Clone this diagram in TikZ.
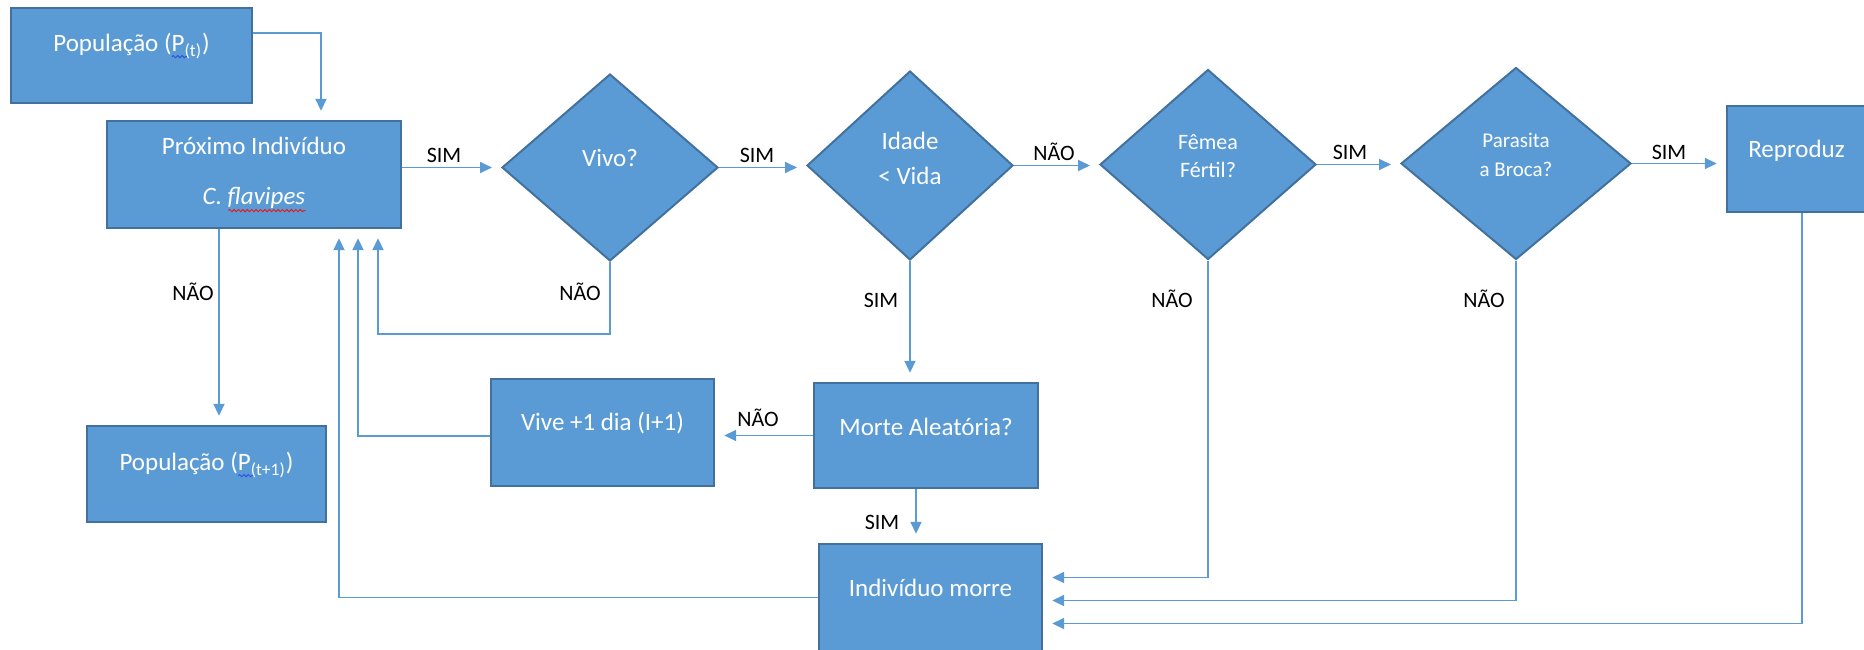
\documentclass[tikz,border=0pt]{standalone}
\usepackage{fontspec}
\setmainfont{Carlito}
\usetikzlibrary{shapes.geometric,arrows.meta,calc,decorations.pathmorphing}
\definecolor{fillblue}{HTML}{5B9BD5}
\definecolor{edgeblue}{HTML}{41719C}
\definecolor{lineblue}{HTML}{5B9BD5}
\definecolor{spellred}{HTML}{E02020}
\definecolor{spellblue}{HTML}{3050E0}
\tikzset{
  box/.style={rectangle, draw=edgeblue, fill=fillblue, line width=1.2pt, inner sep=0pt},
  dia/.style={diamond, aspect=1, draw=edgeblue, fill=fillblue, line width=1pt, inner sep=0pt},
  btext/.style={text=white, font=\fontsize{12.5}{15}\selectfont, inner sep=0pt, align=center},
  lbl/.style={text=black, font=\fontsize{11}{13}\selectfont, inner sep=0pt},
  conn/.style={draw=lineblue, line width=0.9pt},
  arr/.style={conn, -{Triangle[length=6pt,width=5.5pt]}, shorten >=4.5pt},
  squiggle/.style={line width=0.5pt, decorate, decoration={snake, amplitude=0.55pt, segment length=2.2pt}},
}
\begin{document}
\begin{tikzpicture}[x=0.5pt,y=-0.5pt]
\useasboundingbox (0,0) rectangle (1864,649);
\clip (0,0) rectangle (1864,649);
% boxes
\node[box, minimum width=120.5pt, minimum height=47.5pt] (pt) at (131.5,55.5) {};
\node[box, minimum width=147pt, minimum height=53.5pt] (prox) at (254,174.5) {};
\node[box, minimum width=119.5pt, minimum height=48pt] (pop1) at (206.5,474) {};
\node[box, minimum width=111.5pt, minimum height=53.5pt] (vive) at (602.5,432.5) {};
\node[box, minimum width=112pt, minimum height=52.5pt] (morte) at (926,435.5) {};
\node[box, minimum width=111.5pt, minimum height=53.5pt] (indiv) at (930.5,597.5) {};
\node[box, minimum width=69.5pt, minimum height=53pt] (repro) at (1796.5,159) {};
% diamonds
\node[dia, minimum width=108pt, minimum height=93.5pt] (vivo) at (610,167.5) {};
\node[dia, minimum width=103pt, minimum height=94.5pt] (idade) at (910,165.5) {};
\node[dia, minimum width=108pt, minimum height=95pt] (femea) at (1208,164.5) {};
\node[dia, minimum width=115pt, minimum height=96pt] (parasita) at (1516,163.5) {};
% texts
\node[btext] (tpt) at (131.5,46) {População (P\textsubscript{(t)})};
\node[btext] (tprox) at (254,146) {Próximo Indivíduo};
\node[btext] (tflav) at (254,198) {\textit{C. flavipes}};
\node[btext] (tpop1) at (206.5,465) {População (P\textsubscript{(t+1)})};
\node[btext] (tvive) at (602.5,423) {Vive +1 dia (I+1)};
\node[btext] (tmorte) at (926,427) {Morte Aleatória?};
\node[btext] (tindiv) at (930.5,588) {Indivíduo morre};
\node[btext] (trepro) at (1796.5,151) {Reproduz};
\node[btext] (tvivo) at (610,158) {Vivo?};
\node[btext, font=\fontsize{12.5}{17.5}\selectfont] (tidade) at (910,158.5) {Idade\\< Vida};
\node[btext, font=\fontsize{11}{14}\selectfont] (tfemea) at (1208,156) {Fêmea\\Fértil?};
\node[btext, font=\fontsize{10.5}{14.5}\selectfont] (tpara) at (1516,155) {Parasita\\a Broca?};
% spell-check squiggles
\draw[squiggle, spellred] ($(tflav.base west)+(26,6)$) -- ($(tflav.base east)+(0,6)$);
\draw[squiggle, spellblue] ($(tpt.base west)+(119,5)$) -- ($(tpt.base west)+(134,5)$);
\draw[squiggle, spellblue] ($(tpop1.base west)+(119,5)$) -- ($(tpop1.base west)+(134,5)$);
% helper coordinates
\coordinate (ptout) at ($(pt.east)+(0,-22.5)$);
\coordinate (proxin) at ($(prox.north)+(67,0)$);
\coordinate (p1) at ($(prox.south)+(-35,0)$);
\coordinate (vn) at ($(vivo.south)+(0,72)$);
\coordinate (u1) at ($(prox.south)+(85,0)$);
\coordinate (u2) at ($(prox.south)+(104,0)$);
\coordinate (u3) at ($(prox.south)+(124,0)$);
\coordinate (viveout) at ($(vive.west)+(0,3.5)$);
\coordinate (ms) at ($(morte.south)+(-10,0)$);
\coordinate (rs) at ($(repro.south)+(5.5,0)$);
\coordinate (in1) at ($(indiv.east)+(0,-20)$);
\coordinate (in2) at ($(indiv.east)+(0,3)$);
\coordinate (in3) at ($(indiv.east)+(0,26)$);
% connectors
\draw[arr] (ptout) -| (proxin);
\draw[arr] (prox.east |- vivo.west) -- (vivo.west);
\draw[arr] (vivo.east) -- (idade.west |- vivo.east);
\draw[arr] (idade.east) -- (femea.west |- idade.east);
\draw[arr] (femea.east) -- (parasita.west |- femea.east);
\draw[arr] (parasita.east) -- (parasita.east -| repro.west);
\draw[arr] (p1) -- (p1 |- pop1.north);
\draw[arr] (vivo.south) -- (vn) -| (u3);
\draw[arr] (idade.south) -- (idade.south |- morte.north);
\draw[arr] (morte.west) -- (morte.west -| vive.east);
\draw[arr] (viveout) -| (u2);
\draw[arr] (ms) -- (ms |- indiv.north);
\draw[arr] (indiv.west) -| (u1);
\draw[arr] (femea.south) |- (in1);
\draw[arr] (parasita.south) |- (in2);
\draw[arr] (rs) |- (in3);
% labels
\node[lbl] (l1) at (444,155) {SIM};
\node[lbl] (l2) at (757,155) {SIM};
\node[lbl] (l3) at (1054,152) {NÃO};
\node[lbl] (l4) at (1350,152) {SIM};
\node[lbl] (l5) at (1669,152) {SIM};
\node[lbl] (l6) at (193,292) {NÃO};
\node[lbl] (l7) at (580,292) {NÃO};
\node[lbl] (l8) at (881,300) {SIM};
\node[lbl] (l9) at (1172,299) {NÃO};
\node[lbl] (l10) at (1484,299) {NÃO};
\node[lbl] (l11) at (758,418) {NÃO};
\node[lbl] (l12) at (882,522) {SIM};
\end{tikzpicture}
\end{document}
